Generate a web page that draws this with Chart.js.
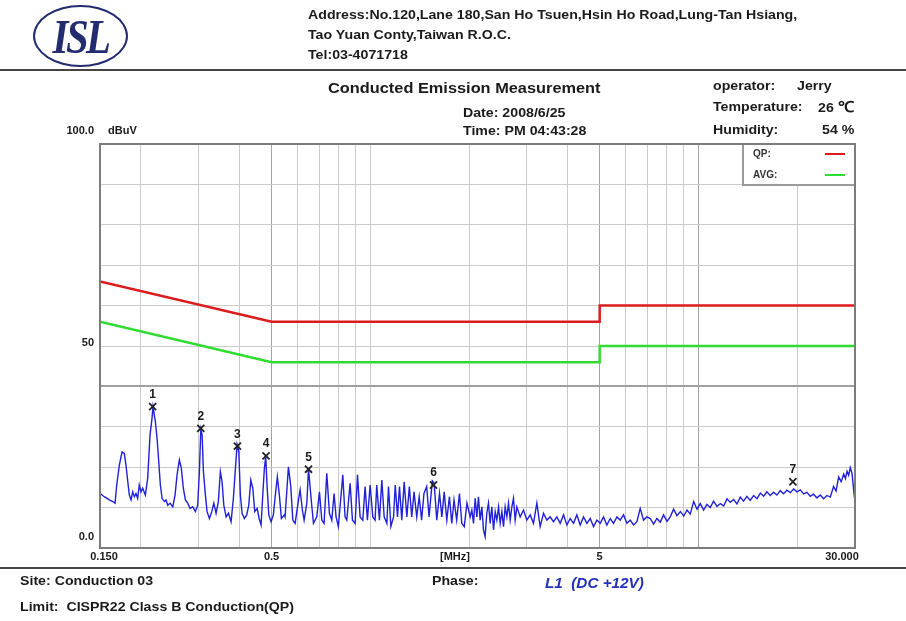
<!DOCTYPE html>
<html>
<head>
<meta charset="utf-8">
<script src="https://cdn.jsdelivr.net/npm/chart.js@4.4.1/dist/chart.umd.min.js"></script>
<style>
  html, body { margin: 0; padding: 0; background: #fff; }
  body { width: 906px; height: 621px; position: relative; overflow: hidden;
         font-family: "Liberation Sans", Arial, sans-serif; color: #1a1a1a; }
  #c { position: absolute; left: 0; top: 0; }
  .t { position: absolute; white-space: pre; font-weight: bold; font-size: 13px; line-height: 14px;
       transform: scaleX(1.09); transform-origin: 0 50%; }
  .rule { position: absolute; left: 0; width: 906px; height: 2px; background: #444; }
  #logo { position: absolute; left: 33px; top: 5px; width: 91px; height: 58px;
          border: 2.5px solid #232c6e; border-radius: 50%; }
  #logo span { position: absolute; left: 0; right: 0; top: 2px; text-align: center;
               font: italic bold 48px "Liberation Serif", serif; color: #232c6e;
               letter-spacing: -3px; transform: scaleX(0.85); }
</style>
</head>
<body>
<canvas id="c" width="906" height="621"></canvas>

<div id="logo"><span>ISL</span></div>
<div class="t" style="left:308px;top:8px;">Address:No.120,Lane 180,San Ho Tsuen,Hsin Ho Road,Lung-Tan Hsiang,</div>
<div class="t" style="left:308px;top:28px;">Tao Yuan Conty,Taiwan R.O.C.</div>
<div class="t" style="left:308px;top:48px;">Tel:03-4071718</div>
<div class="rule" style="top:69px;"></div>

<div class="t" style="left:328px;top:80px;font-size:15px;line-height:16px;">Conducted Emission Measurement</div>
<div class="t" style="left:463px;top:106px;">Date: 2008/6/25</div>
<div class="t" style="left:463px;top:124px;">Time: PM 04:43:28</div>
<div class="t" style="left:713px;top:79px;">operator:</div>
<div class="t" style="left:797px;top:79px;">Jerry</div>
<div class="t" style="left:713px;top:100px;">Temperature:</div>
<div class="t" style="left:818px;top:100px;">26 <span style="font-size:15px;">℃</span></div>
<div class="t" style="left:713px;top:123px;">Humidity:</div>
<div class="t" style="left:822px;top:123px;">54 %</div>

<div class="rule" style="top:567px;"></div>
<div class="t" style="left:20px;top:574px;">Site: Conduction 03</div>
<div class="t" style="left:432px;top:574px;">Phase:</div>
<div class="t" style="left:545px;top:575px;font-size:14px;line-height:16px;font-style:italic;color:#2331b8;">L1  (DC +12V)</div>
<div class="t" style="left:20px;top:600px;">Limit:  CISPR22 Class B Conduction(QP)</div>

<script>
// frequency axis (MHz, log) and level axis (dBuV)
const xGridValues = [0.15, 0.2, 0.3, 0.4, 0.5, 0.6, 0.7, 0.8, 0.9, 1, 2, 3, 4, 5, 6, 7, 8, 9, 10, 20, 30];
const xDarkLines = [0.5, 5, 10];
const xTickValues = [0.15, 0.5, 5, 30];
const xTickLabels = ['0.150', '0.5', '5', '30.000'];
const yTickValues = [100, 50, 0];
const yTickLabels = ['100.0', '50', '0.0'];
const yDarkLines = [40];

// CISPR22 class B limits
const limitFreq = [0.15, 0.5, 5, 5, 30];
const qpLimit = [66, 56, 56, 60, 60];
const avgLimit = [56, 46, 46, 50, 50];

const traceFreq = [
  0.150, 0.1546, 0.1601, 0.164, 0.1667, 0.1687, 0.1718, 0.1751, 0.1779, 0.180,
  0.1823, 0.1843, 0.1865, 0.1887, 0.1909, 0.1931, 0.1954, 0.1976, 0.200, 0.2024,
  0.2062, 0.2096, 0.2131, 0.2161, 0.2176, 0.2212, 0.2239, 0.2265, 0.2291, 0.2319,
  0.2356, 0.2385, 0.2413, 0.2452, 0.2499, 0.254, 0.2576, 0.2618, 0.2655, 0.2692,
  0.2731, 0.2777, 0.2822, 0.2876, 0.2929, 0.2977, 0.3013, 0.3043, 0.3071, 0.310,
  0.3143, 0.318, 0.3233, 0.3287, 0.3333, 0.3387, 0.3442, 0.3491, 0.3533, 0.3576,
  0.3635, 0.3695, 0.3763, 0.3825, 0.388, 0.3926, 0.3973, 0.4017, 0.4066, 0.4131,
  0.4201, 0.4261, 0.4322, 0.4383, 0.4444, 0.4519, 0.4582, 0.4645, 0.4701, 0.4754,
  0.480, 0.4843, 0.4904, 0.4982, 0.5063, 0.5134, 0.5207, 0.5281, 0.5357, 0.5473,
  0.5498, 0.5628, 0.5723, 0.5804, 0.5899, 0.604, 0.6109, 0.6207, 0.6283, 0.6404,
  0.648, 0.6634, 0.6709, 0.6868, 0.6997, 0.7114, 0.7229, 0.7367, 0.7504, 0.763,
  0.7753, 0.7862, 0.7989, 0.8243, 0.8375, 0.8476, 0.8677, 0.882, 0.8989, 0.9138,
  0.9308, 0.9485, 0.964, 0.9797, 0.9985, 1.0175, 1.034, 1.046, 1.066, 1.084,
  1.102, 1.123, 1.136, 1.155, 1.177, 1.191, 1.21, 1.227, 1.247, 1.268,
  1.292, 1.315, 1.337, 1.359, 1.385, 1.409, 1.433, 1.457, 1.485, 1.51,
  1.545, 1.565, 1.594, 1.625, 1.652, 1.679, 1.71, 1.742, 1.771, 1.799,
  1.833, 1.869, 1.9, 1.933, 1.97, 2.015, 2.039, 2.063, 2.087, 2.112,
  2.136, 2.161, 2.187, 2.212, 2.238, 2.264, 2.291, 2.319, 2.346, 2.374,
  2.402, 2.43, 2.459, 2.487, 2.517, 2.546, 2.576, 2.607, 2.637, 2.668,
  2.7, 2.731, 2.763, 2.796, 2.862, 2.93, 2.998, 3.07, 3.142, 3.217,
  3.293, 3.371, 3.45, 3.533, 3.616, 3.702, 3.79, 3.88, 3.972, 4.065,
  4.162, 4.26, 4.361, 4.465, 4.571, 4.678, 4.789, 4.903, 5.018, 5.137,
  5.259, 5.383, 5.511, 5.642, 5.774, 5.912, 6.053, 6.194, 6.342, 6.493,
  6.645, 6.803, 6.965, 7.128, 7.30, 7.47, 7.65, 7.83, 8.02, 8.203,
  8.40, 8.6, 8.81, 9.02, 9.23, 9.439, 9.67, 9.9, 10.13, 10.37,
  10.61, 10.86, 11.12, 11.39, 11.66, 11.94, 12.22, 12.5, 12.80, 13.1,
  13.41, 13.72, 14.05, 14.38, 14.73, 15.08, 15.44, 15.8, 16.17, 16.55,
  16.94, 17.34, 17.75, 18.17, 18.60, 19.05, 19.50, 19.96, 20.43, 20.92,
  21.41, 21.92, 22.44, 22.97, 23.51, 24.07, 24.64, 25.22, 25.81, 26.27,
  26.75, 27.23, 27.72, 28.05, 28.38, 28.70, 29.02, 29.37, 29.83, 30.0
];
const traceLevel = [
  13.5, 12.7, 11.9, 11.5, 11.1, 15.6, 20.5, 23.8, 23.4, 20.5,
  16.4, 13.1, 11.9, 13.9, 12.7, 13.5, 12.3, 15.6, 13.9, 14.8,
  13.1, 17.2, 28.0, 32.1, 35.0, 31.3, 27.1, 21.4, 15.6, 12.3,
  11.5, 11.9, 10.6, 11.1, 10.2, 13.1, 18.1, 21.8, 19.7, 14.8,
  11.9, 11.1, 9.8, 10.2, 9.0, 10.6, 18.9, 29.4, 28.0, 18.9,
  13.1, 9.0, 7.3, 9.0, 11.1, 8.6, 11.5, 18.9, 16.4, 10.6,
  7.7, 8.6, 6.5, 12.3, 19.7, 25.6, 23.8, 13.1, 8.6, 7.3,
  8.2, 10.6, 16.8, 14.8, 9.0, 9.8, 7.3, 5.7, 13.1, 19.7,
  22.6, 15.6, 8.2, 6.5, 8.2, 13.1, 17.6, 13.1, 7.3, 8.2,
  7.7, 20.1, 15.2, 6.9, 6.1, 11.9, 14.4, 9.4, 6.9, 11.1,
  19.6, 10.2, 6.1, 7.7, 13.9, 6.9, 6.1, 18.5, 8.6, 6.9,
  13.5, 7.7, 5.3, 18.1, 7.7, 6.9, 16.0, 6.9, 6.1, 18.1,
  7.7, 6.9, 15.2, 6.9, 15.6, 7.7, 6.9, 15.6, 6.9, 16.8,
  7.7, 6.1, 15.2, 5.3, 7.7, 15.6, 7.7, 15.2, 6.9, 16.4,
  7.7, 15.2, 7.7, 13.9, 7.7, 12.7, 6.9, 13.5, 15.2, 7.7,
  16.6, 16.0, 6.9, 13.5, 7.7, 13.9, 6.9, 12.7, 6.1, 11.9,
  6.9, 13.5, 6.1, 5.3, 11.1, 7.7, 9.4, 6.1, 12.3, 7.7,
  12.7, 6.9, 10.2, 4.5, 2.8, 8.6, 11.1, 6.1, 10.2, 4.5,
  9.0, 6.9, 10.2, 6.1, 9.0, 5.3, 10.2, 7.7, 11.1, 6.9,
  10.2, 12.3, 6.9, 10.2, 7.7, 9.4, 6.9, 8.2, 6.1, 11.1,
  5.3, 8.6, 6.9, 7.7, 6.5, 7.7, 6.1, 8.2, 5.7, 7.3,
  6.1, 8.2, 5.7, 7.7, 6.1, 7.3, 5.3, 6.9, 6.1, 7.7,
  5.7, 7.3, 6.1, 7.7, 6.9, 8.2, 6.1, 6.9, 5.7, 6.5,
  9.8, 6.9, 7.7, 7.3, 5.9, 7.3, 6.4, 8.2, 6.6, 7.7,
  9.6, 8.0, 9.0, 7.9, 9.4, 8.4, 11.5, 9.6, 11.0, 9.4,
  10.8, 10.0, 11.6, 10.3, 11.0, 10.4, 12.2, 11.3, 12.0, 10.9,
  12.6, 11.6, 12.8, 11.8, 13.0, 12.2, 13.6, 12.8, 13.9, 13.0,
  13.8, 13.1, 14.2, 13.4, 14.3, 13.7, 14.6, 13.9, 14.4, 13.4,
  13.8, 12.8, 13.3, 12.4, 13.1, 12.2, 13.0, 12.6, 15.2, 14.1,
  17.6, 16.4, 18.3, 17.2, 19.0, 18.0, 19.9, 18.5, 13.1, 11.5
];

// peak markers
const markerFreq = [0.2171, 0.3043, 0.3934, 0.481, 0.648, 1.558, 19.4];
const markerLevel = [35.0, 29.6, 25.2, 22.8, 19.5, 15.6, 16.4];
const markerLabels = ['1', '2', '3', '4', '5', '6', '7'];

const labelFont = 'bold 11px "Liberation Sans", Arial, sans-serif';

const framePlugin = {
  id: 'frame',
  afterDatasetsDraw(chart) {
    const { ctx, chartArea: a, scales } = chart;
    ctx.save();
    // legend box in the top right corner
    const bx = a.right - 112, by = a.top, bw = 112, bh = 41;
    ctx.fillStyle = '#fff';
    ctx.fillRect(bx, by, bw, bh);
    ctx.strokeStyle = '#9a9a9a';
    ctx.lineWidth = 2;
    ctx.strokeRect(bx, by, bw, bh);
    ctx.font = 'bold 10px "Liberation Sans", Arial, sans-serif';
    ctx.textBaseline = 'middle';
    [0, 1].forEach(i => {
      const ds = chart.data.datasets[i];
      const y = by + 10 + i * 21;
      ctx.fillStyle = '#333';
      ctx.fillText(ds.label, bx + 10, y);
      ctx.strokeStyle = ds.borderColor;
      ctx.lineWidth = 2;
      ctx.beginPath();
      ctx.moveTo(bx + 82, y);
      ctx.lineTo(bx + 102, y);
      ctx.stroke();
    });

    // frame
    ctx.strokeStyle = '#7c7c7c';
    ctx.lineWidth = 2;
    ctx.strokeRect(a.left, a.top, a.right - a.left, a.bottom - a.top);

    // axis labels
    ctx.fillStyle = '#1a1a1a';
    ctx.font = labelFont;
    ctx.textAlign = 'right';
    ctx.textBaseline = 'middle';
    const yOffsets = [-13, -3, -11];
    yTickValues.forEach((v, i) => {
      ctx.fillText(yTickLabels[i], a.left - 6, scales.y.getPixelForValue(v) + yOffsets[i]);
    });
    ctx.textAlign = 'left';
    ctx.fillText('dBuV', a.left + 8, a.top - 13);

    ctx.textAlign = 'center';
    const xOffsets = [4, 0, 0, -13];
    xTickValues.forEach((v, i) => {
      ctx.fillText(xTickLabels[i], scales.x.getPixelForValue(v) + xOffsets[i], a.bottom + 9);
    });
    ctx.fillText('[MHz]', 455, a.bottom + 9);

    // marker numbers
    ctx.font = 'bold 12px "Liberation Sans", Arial, sans-serif';
    const meta = chart.getDatasetMeta(3);
    meta.data.forEach((pt, i) => {
      ctx.fillText(markerLabels[i], pt.x, pt.y - 12);
    });
    ctx.restore();
  }
};

const ctx = document.getElementById('c').getContext('2d');
new Chart(ctx, {
  type: 'line',
  data: {
    datasets: [
      {
        label: 'QP:',
        data: limitFreq.map((f, i) => ({ x: f, y: qpLimit[i] })),
        borderColor: '#dc1c1c',
        borderWidth: 2.5,
        pointRadius: 0,
        order: 2
      },
      {
        label: 'AVG:',
        data: limitFreq.map((f, i) => ({ x: f, y: avgLimit[i] })),
        borderColor: '#2fdc2f',
        borderWidth: 2.5,
        pointRadius: 0,
        order: 2
      },
      {
        label: 'Trace',
        data: traceFreq.map((f, i) => ({ x: f, y: traceLevel[i] })),
        borderColor: '#2020d8',
        borderWidth: 1.4,
        pointRadius: 0,
        order: 1
      },
      {
        label: 'Markers',
        data: markerFreq.map((f, i) => ({ x: f, y: markerLevel[i] })),
        showLine: false,
        pointStyle: 'crossRot',
        pointRadius: 5,
        borderColor: '#222',
        borderWidth: 1.8,
        order: 0
      }
    ]
  },
  options: {
    responsive: false,
    animation: false,
    devicePixelRatio: 1,
    layout: { padding: { left: 100, top: 144, right: 51, bottom: 73 } },
    plugins: { legend: { display: false }, tooltip: { enabled: false } },
    scales: {
      x: {
        type: 'logarithmic',
        min: 0.15,
        max: 30,
        afterBuildTicks: s => { s.ticks = xGridValues.map(v => ({ value: v })); },
        ticks: { display: false },
        border: { display: false },
        grid: {
          drawTicks: false,
          color: c => xDarkLines.includes(c.tick.value) ? '#a4a4a4' : '#cbcbcb',
          lineWidth: 1
        }
      },
      y: {
        min: 0,
        max: 100,
        ticks: { display: false, stepSize: 10 },
        border: { display: false },
        grid: {
          drawTicks: false,
          color: c => yDarkLines.includes(c.tick.value) ? '#a0a0a0' : '#cbcbcb',
          lineWidth: c => yDarkLines.includes(c.tick.value) ? 2 : 1
        }
      }
    }
  },
  plugins: [framePlugin]
});
</script>
</body>
</html>
